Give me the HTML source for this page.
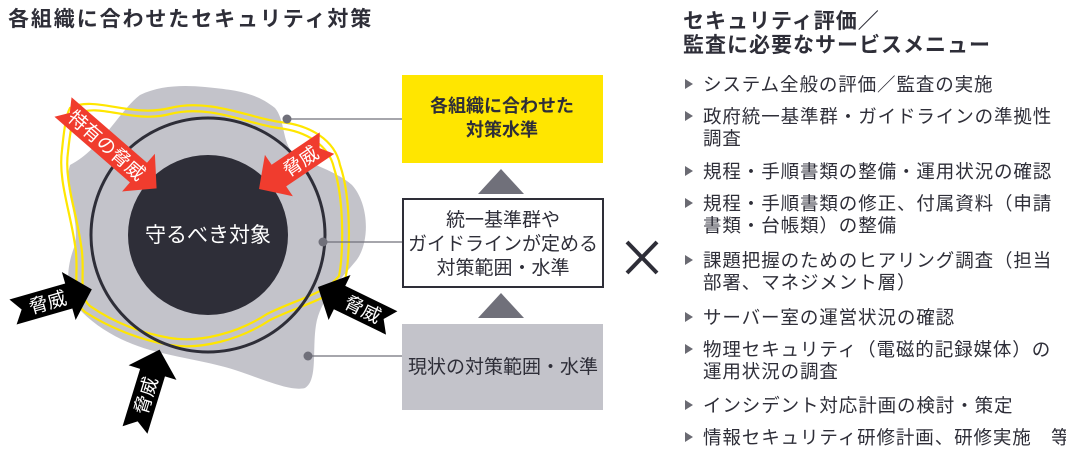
<!DOCTYPE html>
<html><head><meta charset="utf-8"><style>
body{margin:0;background:#fff;width:1066px;height:458px;overflow:hidden}
svg{display:block}
text{font-family:"Liberation Sans","Noto Sans CJK JP",sans-serif;fill:#2e2e38}
</style></head><body>
<svg width="1066" height="458" viewBox="0 0 1066 458" xmlns="http://www.w3.org/2000/svg">
<text x="8" y="26" font-size="21" font-weight="bold" letter-spacing="1.9">各組織に合わせたセキュリティ対策</text>
<text x="683" y="28" font-size="21" font-weight="bold" letter-spacing="1">セキュリティ評価／</text>
<text x="683" y="52" font-size="21" font-weight="bold" letter-spacing="1">監査に必要なサービスメニュー</text>

<!-- blob -->
<path d="M70,165 C100,150 120,110 140,95 C160,85 185,85 205,87 C235,90 255,92 275,108 C285,120 282,140 292,152 C310,165 335,170 352,185 C370,205 370,245 355,262 C340,280 320,300 316,325 C312,350 318,380 305,388 C290,392 260,378 235,370 C210,362 180,358 150,350 C125,343 100,330 82,312 C65,295 65,270 75,245 C80,215 62,190 70,165 Z" fill="#c3c3ca"/>
<g fill="none" stroke="#ffe600" stroke-width="2.2">
<path d="M70,108 C95,95 130,118 170,108 C210,98 250,118 280,122 C310,125 335,140 340,165 C352,200 350,260 345,280 C330,300 300,305 270,320 C240,340 200,350 170,345 C140,340 110,328 85,312 C70,300 80,270 75,245 C70,210 58,180 62,150 C64,130 66,115 70,108 Z"/>
<path d="M76,114 C100,102 132,124 170,114 C210,104 248,124 278,128 C306,131 329,145 334,168 C345,202 343,258 339,276 C325,294 297,299 267,314 C238,333 200,343 170,338 C141,333 113,322 90,306 C77,296 86,270 81,245 C76,210 64,180 68,152 C70,133 72,120 76,114 Z"/>
</g>
<circle cx="208" cy="235" r="117" fill="none" stroke="#2e2e38" stroke-width="3"/>
<circle cx="208" cy="235" r="80" fill="#2e2e38"/>
<text x="208" y="242" font-size="21" text-anchor="middle" style="fill:#fff">守るべき対象</text>

<g stroke="#70707a" stroke-width="1.2">
<line x1="287" y1="119" x2="402" y2="119"/>
<line x1="323" y1="242" x2="402" y2="242"/>
<line x1="308" y1="356" x2="402" y2="356"/>
</g>
<g fill="#70707a"><circle cx="287" cy="119" r="4.5"/><circle cx="323" cy="242" r="4.5"/><circle cx="308" cy="356" r="4.5"/></g>

<g transform="translate(63,107) rotate(41)">
<polygon points="0,-13 100,-13 100,-25 124,0 100,25 100,13 0,13 9,0" fill="#f03c2e"/>
<text x="58" y="7" font-size="19" text-anchor="middle" style="fill:#fff">特有の脅威</text>
</g>
<g transform="translate(259,189) rotate(-34)">
<polygon points="0,0 24,-25 24,-13 82,-13 73,0 82,13 24,13 24,25" fill="#f03c2e"/>
<text x="50" y="7" font-size="19" text-anchor="middle" style="fill:#fff">脅威</text>
</g>
<g transform="translate(13,312) rotate(-16)">
<polygon points="0,-13 58,-13 58,-25 82,0 58,25 58,13 0,13 9,0" fill="#000"/>
<text x="36" y="7" font-size="19" text-anchor="middle" style="fill:#fff">脅威</text>
</g>
<g transform="translate(318,287) rotate(26)">
<polygon points="0,0 24,-25 24,-13 82,-13 73,0 82,13 24,13 24,25" fill="#000"/>
<text x="50" y="7" font-size="19" text-anchor="middle" style="fill:#fff">脅威</text>
</g>
<g transform="translate(135,430) rotate(-73)">
<polygon points="0,-13 60,-13 60,-25 84,0 60,25 60,13 0,13 9,0" fill="#000"/>
<text x="36" y="7" font-size="19" text-anchor="middle" style="fill:#fff">脅威</text>
</g>

<rect x="402" y="75" width="201" height="88" fill="#ffe600"/>
<text x="502" y="112" font-size="18" font-weight="bold" text-anchor="middle">各組織に合わせた</text>
<text x="502" y="136" font-size="18" font-weight="bold" text-anchor="middle">対策水準</text>
<polygon points="501,169 524,194 478,194" fill="#70707a"/>
<rect x="403" y="199" width="200" height="88" fill="#fff" stroke="#2e2e38" stroke-width="2"/>
<text x="503" y="226" font-size="19" text-anchor="middle">統一基準群や</text>
<text x="503" y="250" font-size="19" text-anchor="middle">ガイドラインが定める</text>
<text x="503" y="274" font-size="19" text-anchor="middle">対策範囲・水準</text>
<polygon points="501,293 524,318 478,318" fill="#70707a"/>
<rect x="402" y="324" width="201" height="86" fill="#c3c3ca"/>
<text x="503" y="373" font-size="19" text-anchor="middle">現状の対策範囲・水準</text>

<g stroke="#2e2e38" stroke-width="4"><line x1="627" y1="242" x2="657" y2="273"/><line x1="657" y1="242" x2="627" y2="273"/></g>

<g fill="#6a6a72">
<polygon points="685,79 685,89 693,84"/><polygon points="685,111 685,121 693,116"/>
<polygon points="685,166 685,176 693,171"/><polygon points="685,198 685,208 693,203"/>
<polygon points="685,255 685,265 693,260"/><polygon points="685,312 685,322 693,317"/>
<polygon points="685,344 685,354 693,349"/><polygon points="685,400 685,410 693,405"/>
<polygon points="685,432 685,442 693,437"/>
</g>
<g font-size="18.5" letter-spacing="0.9">
<text x="703" y="91">システム全般の評価／監査の実施</text>
<text x="703" y="123">政府統一基準群・ガイドラインの準拠性</text>
<text x="703" y="145">調査</text>
<text x="703" y="178">規程・手順書類の整備・運用状況の確認</text>
<text x="703" y="210">規程・手順書類の修正、付属資料（申請</text>
<text x="703" y="232">書類・台帳類）の整備</text>
<text x="703" y="267">課題把握のためのヒアリング調査（担当</text>
<text x="703" y="289">部署、マネジメント層）</text>
<text x="703" y="324">サーバー室の運営状況の確認</text>
<text x="703" y="356">物理セキュリティ（電磁的記録媒体）の</text>
<text x="703" y="378">運用状況の調査</text>
<text x="703" y="412">インシデント対応計画の検討・策定</text>
<text x="703" y="444">情報セキュリティ研修計画、研修実施　等</text>
</g>
</svg>
</body></html>
